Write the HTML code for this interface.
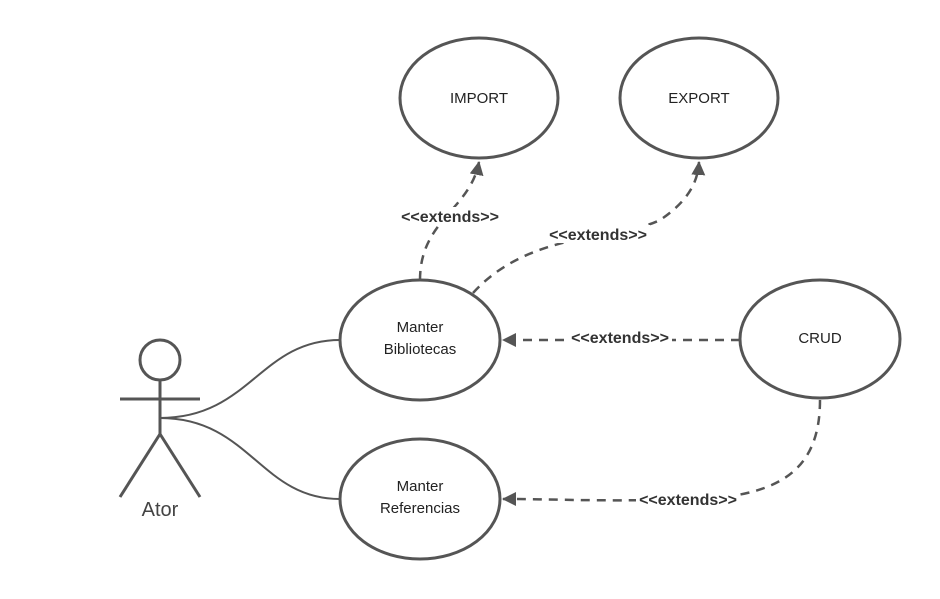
<!DOCTYPE html>
<html><head><meta charset="utf-8"><style>
html,body{margin:0;padding:0;background:#fff;}
svg{display:block;}
text{font-family:"Liberation Sans",Arial,sans-serif;fill:#222;}
.lbl{font-weight:bold;font-size:16px;fill:#333;}
</style></head><body>
<svg width="940" height="599" viewBox="0 0 940 599" xmlns="http://www.w3.org/2000/svg">
<defs>
<marker id="ar" markerWidth="16" markerHeight="16" refX="13" refY="7" orient="auto" markerUnits="userSpaceOnUse">
<path d="M0,0 L14,7 L0,14 Z" fill="#555"/>
</marker>
</defs>
<g fill="none" stroke="#555" stroke-width="3">
<ellipse cx="479" cy="98" rx="79" ry="60"/>
<ellipse cx="699" cy="98" rx="79" ry="60"/>
<ellipse cx="420" cy="340" rx="80" ry="60"/>
<ellipse cx="820" cy="339" rx="80" ry="59"/>
<ellipse cx="420" cy="499" rx="80" ry="60"/>
<circle cx="160" cy="360" r="20"/>
<line x1="120" y1="399" x2="200" y2="399"/>
<line x1="160" y1="380" x2="160" y2="434"/>
<line x1="160" y1="434" x2="120" y2="497"/>
<line x1="160" y1="434" x2="200" y2="497"/>
</g>
<g fill="none" stroke="#555" stroke-width="2">
<path d="M160,418 C250,418 260,340 340,340"/>
<path d="M160,418 C250,418 260,499 340,499"/>
</g>
<g fill="none" stroke="#555" stroke-width="2.5" stroke-dasharray="9,7">
<path d="M420,280 C420,220 470,210 479,162" marker-end="url(#ar)"/>
<path d="M473,293 C530,230 620,240 660,220 C690,200 698,180 699,162" marker-end="url(#ar)"/>
<path d="M740,340 L503,340" marker-end="url(#ar)"/>
<path d="M820,400 C820,470 780,495 700,499 C600,502 560,499 503,499" marker-end="url(#ar)"/>
</g>
<rect x="398" y="207" width="104" height="18" fill="#fff"/>
<rect x="546" y="225" width="104" height="18" fill="#fff"/>
<rect x="568" y="329" width="104" height="18" fill="#fff"/>
<rect x="636" y="490" width="104" height="18" fill="#fff"/>
<text class="lbl" x="450" y="222" text-anchor="middle">&lt;&lt;extends&gt;&gt;</text>
<text class="lbl" x="598" y="240" text-anchor="middle">&lt;&lt;extends&gt;&gt;</text>
<text class="lbl" x="620" y="343" text-anchor="middle">&lt;&lt;extends&gt;&gt;</text>
<text class="lbl" x="688" y="505" text-anchor="middle">&lt;&lt;extends&gt;&gt;</text>
<g font-size="15" text-anchor="middle">
<text x="479" y="103">IMPORT</text>
<text x="699" y="103">EXPORT</text>
<text x="820" y="343">CRUD</text>
<text x="420" y="332">Manter</text>
<text x="420" y="354">Bibliotecas</text>
<text x="420" y="491">Manter</text>
<text x="420" y="513">Referencias</text>
</g>
<text x="160" y="516" font-size="20" text-anchor="middle" style="fill:#444">Ator</text>
</svg>
</body></html>
